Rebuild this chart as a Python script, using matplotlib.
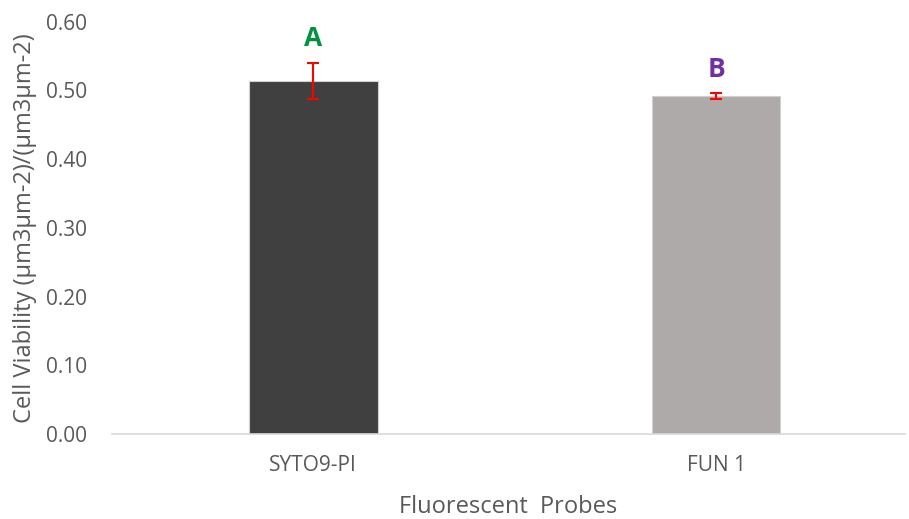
import matplotlib
matplotlib.use("Agg")
import matplotlib.pyplot as plt

probes = ["SYTO9-PI", "FUN 1"]
viability = [0.514, 0.492]
errors = [0.026, 0.004]
letters = ["A", "B"]
letter_colors = ["#00923F", "#7030A0"]
bar_colors = ["#404040", "#AEAAAA"]

plt.rcParams['font.family'] = ['Open Sans', 'DejaVu Sans']

fig = plt.figure(figsize=(9.09, 5.19), dpi=100)
ax = fig.add_axes([0.123, 0.164, 0.873, 0.794])

x = list(range(len(probes)))
ax.bar(x, viability, width=0.32, color=bar_colors, edgecolor="#D0D0D0", linewidth=0.8, zorder=2)
ax.errorbar(x, viability, yerr=errors, fmt="none", ecolor="red", elinewidth=1.5,
            capsize=4, capthick=1.5, zorder=3)

# significance letters above the bars
for xi, v, e, lab, c in zip(x, viability, errors, letters, letter_colors):
    ax.text(xi, v + e + 0.035, lab, ha="center", va="center", color=c,
            fontsize=19, fontweight="bold")

ax.set_xlim(-0.5, 1.47)
ax.set_ylim(0, 0.6)
ax.set_yticks([0, 0.1, 0.2, 0.3, 0.4, 0.5, 0.6])
ax.set_yticklabels([f"{t:.2f}" for t in ax.get_yticks()])
ax.set_xticks(x)
ax.set_xticklabels(probes)

for s in ["top", "right", "left"]:
    ax.spines[s].set_visible(False)
ax.spines["bottom"].set_color("#D9D9D9")
ax.spines["bottom"].set_linewidth(1.2)
ax.tick_params(axis="both", length=0, labelsize=15, labelcolor="#595959")
ax.tick_params(axis="y", pad=18)
ax.tick_params(axis="x", pad=15)

ax.set_xlabel("Fluorescent  Probes", fontsize=17, color="#595959", labelpad=14)
ax.set_ylabel("Cell Viability (µm3µm-2)/(µm3µm-2)", fontsize=17, color="#595959", labelpad=6)

fig.savefig("out.png", dpi=100)
